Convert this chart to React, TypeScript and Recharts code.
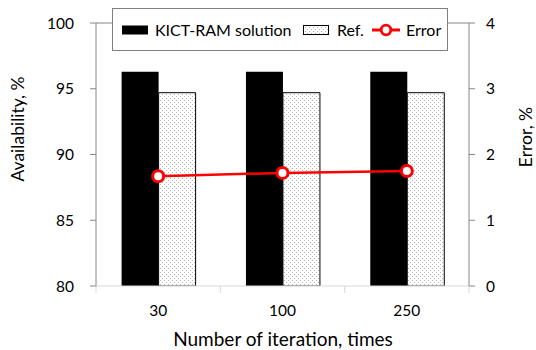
import React from 'react';
import {
  ComposedChart, Bar, Line, XAxis, YAxis, Legend, ReferenceLine, Label,
} from 'recharts';

const iterations = ['30', '100', '250'];
const kictValues = [96.3, 96.3, 96.3];
const refValues = [94.7, 94.7, 94.7];
const errorValues = [1.67, 1.72, 1.75];
const leftTicks = [80, 85, 90, 95, 100];
const rightTicks = [0, 1, 2, 3, 4];

const data = iterations.map((it, i) => ({
  it,
  kict: kictValues[i],
  refSol: refValues[i],
  error: errorValues[i],
}));

const W = 536;
const H = 350;
const LEFT = 96;
const RIGHT = 469;
const TOP = 23;
const BOTTOM = 286;
const FONT = 'Lato, sans-serif';
const AXIS_DARK = '#868686';
const AXIS_LIGHT = '#d9d9d9';
const CAT_W = (RIGHT - LEFT) / iterations.length;

function XTick(props: any) {
  const { x, y, payload, index } = props;
  return (
    <g>
      <line x1={x - CAT_W / 2} x2={x - CAT_W / 2} y1={y} y2={y + 7} stroke={AXIS_LIGHT} />
      {index === iterations.length - 1 && (
        <line x1={x + CAT_W / 2} x2={x + CAT_W / 2} y1={y} y2={y + 7} stroke={AXIS_LIGHT} />
      )}
      <text x={x} y={y + 30} textAnchor="middle" fontSize={15.5} fill="#000" fontFamily={FONT}>
        {payload.value}
      </text>
    </g>
  );
}

const legendItem = (left: number): React.CSSProperties => ({
  position: 'absolute', left, top: '50%', transform: 'translateY(-50%)', lineHeight: 1,
});

function LegendBox() {
  return (
    <div style={{
      position: 'relative', boxSizing: 'border-box', width: 336, height: 43,
      border: '1px solid #808080', background: '#fff',
      fontFamily: FONT, fontSize: 16, color: '#000', whiteSpace: 'nowrap',
    }}>
      <span style={{ ...legendItem(9), width: 26, height: 9, background: '#000' }} />
      <span style={legendItem(42)}>KICT-RAM solution</span>
      <svg width={26} height={10} style={legendItem(190)}>
        <rect x={0.5} y={0.5} width={25} height={9} fill="url(#dots)" stroke="#000" />
      </svg>
      <span style={legendItem(224)}>Ref.</span>
      <svg width={28} height={14} style={legendItem(259)}>
        <line x1={0} x2={28} y1={7} y2={7} stroke="#ff0000" strokeWidth={3} />
        <circle cx={14} cy={7} r={4.8} fill="#fff" stroke="#ff0000" strokeWidth={2.8} />
      </svg>
      <span style={legendItem(293)}>Error</span>
    </div>
  );
}

export default function App() {
  return (
    <div style={{ position: 'absolute', left: 0, top: 0 }}>
      <ComposedChart
        width={W}
        height={H}
        data={data}
        margin={{ top: TOP, right: 0, bottom: 0, left: 0 }}
        barCategoryGap="20.6%"
        barGap={0}
      >
        <defs>
          <pattern id="dots" patternUnits="userSpaceOnUse" width={4} height={4}>
            <rect width={4} height={4} fill="#fff" />
            <rect x={0} y={0} width={1} height={1} fill="#b4b4b4" />
            <rect x={2} y={2} width={1} height={1} fill="#b4b4b4" />
          </pattern>
        </defs>
        <XAxis
          dataKey="it"
          height={H - BOTTOM}
          tickLine={false}
          tickSize={0}
          tickMargin={0}
          axisLine={{ stroke: AXIS_LIGHT }}
          tick={<XTick />}
          interval={0}
        >
          <Label
            content={() => (
              <text x={283} y={346} textAnchor="middle" fontSize={19} fontFamily={FONT} fill="#000">
                Number of iteration, times
              </text>
            )}
          />
        </XAxis>
        <YAxis
          yAxisId="left"
          width={LEFT}
          domain={[80, 100]}
          ticks={leftTicks}
          allowDataOverflow
          tickSize={6}
          tickMargin={16}
          tickLine={{ stroke: AXIS_DARK }}
          axisLine={{ stroke: AXIS_DARK }}
          tick={{ fontSize: 15.5, fill: '#000', fontFamily: FONT }}
        >
          <Label
            content={() => (
              <text x={24} y={129} transform="rotate(-90 24 129)" textAnchor="middle" fontSize={17.5} fontFamily={FONT} fill="#000">
                Availability, %
              </text>
            )}
          />
        </YAxis>
        <YAxis
          yAxisId="right"
          orientation="right"
          width={W - RIGHT}
          domain={[0, 4]}
          ticks={rightTicks}
          tickSize={6}
          tickMargin={11}
          tickLine={{ stroke: AXIS_DARK }}
          axisLine={{ stroke: AXIS_DARK }}
          tick={{ fontSize: 15.5, fill: '#000', fontFamily: FONT }}
        >
          <Label
            content={() => (
              <text x={532} y={137} transform="rotate(-90 532 137)" textAnchor="middle" fontSize={17.5} fontFamily={FONT} fill="#000">
                Error, %
              </text>
            )}
          />
        </YAxis>
        <ReferenceLine yAxisId="left" y={100} stroke={AXIS_DARK} />
        <Bar yAxisId="left" dataKey="kict" fill="#000" isAnimationActive={false} />
        <Bar yAxisId="left" dataKey="refSol" fill="url(#dots)" stroke="#000" strokeWidth={1} isAnimationActive={false} />
        <Line
          yAxisId="right"
          dataKey="error"
          stroke="#ff0000"
          strokeWidth={2.5}
          dot={{ r: 5.5, fill: '#fff', stroke: '#ff0000', strokeWidth: 3 }}
          activeDot={false}
          isAnimationActive={false}
        />
        <Legend
          layout="horizontal"
          verticalAlign="middle"
          align="center"
          wrapperStyle={{ position: 'absolute', top: 8, left: 112, width: 336, height: 43 }}
          content={() => <LegendBox />}
        />
      </ComposedChart>
    </div>
  );
}
